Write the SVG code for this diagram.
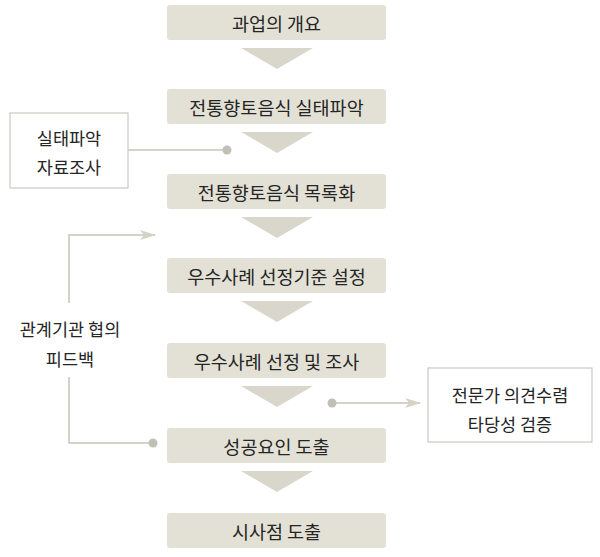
<svg xmlns="http://www.w3.org/2000/svg" width="600" height="557" viewBox="0 0 600 557">
<defs>
<style>
.box{fill:#e3e1d5;}
.step{fill:#d9d7cb;}
.t{font-family:"Noto Sans CJK KR","Noto Sans",sans-serif;font-size:18.5px;fill:#252525;text-anchor:middle;dominant-baseline:central;}
.s{font-family:"Noto Sans CJK KR","Noto Sans",sans-serif;font-size:17.5px;fill:#252525;text-anchor:middle;dominant-baseline:central;}
.side{fill:#fff;stroke:#c9c9c2;stroke-width:1.2;}
.ln{fill:none;stroke:#c6c4b8;stroke-width:1.5;}
.dot{fill:#c2c0b6;}
</style>
<marker id="ah" markerWidth="16" markerHeight="10" refX="15" refY="5" orient="auto" markerUnits="userSpaceOnUse">
<path d="M0,0 L16,5 L0,10 L4,5 Z" fill="#d6d3c6"/>
</marker>
</defs>
<g id="n1"><rect class="box" x="167" y="5" width="219" height="35" rx="3"/><text class="t" x="276.5" y="22.5">과업의 개요</text></g>
<g id="n2"><rect class="box" x="167" y="89" width="219" height="35" rx="3"/><text class="t" x="276.5" y="106.5">전통향토음식 실태파악</text></g>
<g id="n3"><rect class="box" x="167" y="174" width="219" height="35" rx="3"/><text class="t" x="276.5" y="191.5">전통향토음식 목록화</text></g>
<g id="n4"><rect class="box" x="167" y="258" width="219" height="35" rx="3"/><text class="t" x="276.5" y="275.5">우수사례 선정기준 설정</text></g>
<g id="n5"><rect class="box" x="167" y="343" width="219" height="35" rx="3"/><text class="t" x="276.5" y="360.5">우수사례 선정 및 조사</text></g>
<g id="n6"><rect class="box" x="167" y="428" width="219" height="35" rx="3"/><text class="t" x="276.5" y="445.5">성공요인 도출</text></g>
<g id="n7"><rect class="box" x="167" y="513" width="219" height="35" rx="3"/><text class="t" x="276.5" y="530.5">시사점 도출</text></g>
<g id="n8"><rect class="side" x="10" y="113" width="118" height="75"/><text class="s" x="69" y="137">실태파악</text><text class="s" x="69" y="166">자료조사</text></g>
<g id="n9"><rect class="side" x="428" y="368" width="164" height="74"/><text class="s" x="510" y="394">전문가 의견수렴</text><text class="s" x="510" y="423">타당성 검증</text></g>
<g id="n10"><text class="s" x="70" y="328">관계기관 협의</text><text class="s" x="70" y="358">피드백</text></g>
<g id="connectors">
<polygon class="step" points="241,48 313,48 277,69"/>
<polygon class="step" points="241,132 313,132 277,153"/>
<polygon class="step" points="241,217 313,217 277,238"/>
<polygon class="step" points="241,301 313,301 277,322"/>
<polygon class="step" points="241,386 313,386 277,407"/>
<polygon class="step" points="241,471 313,471 277,492"/>
<path class="ln" d="M128,150 H227"/>
<circle class="dot" cx="227" cy="150" r="4.5"/>
<path class="ln" d="M69,303 V235 H155" marker-end="url(#ah)"/>
<path class="ln" d="M69,377 V443 H153"/>
<circle class="dot" cx="153" cy="443" r="4.5"/>
<path class="ln" d="M332,403 H420" marker-end="url(#ah)"/>
<circle class="dot" cx="332" cy="403" r="4.5"/>
</g>
</svg>
